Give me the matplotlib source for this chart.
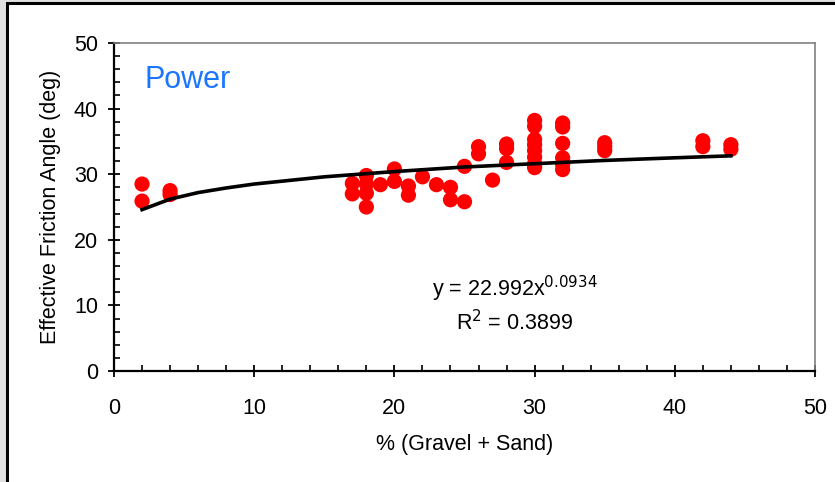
import matplotlib
matplotlib.use("Agg")
import matplotlib.pyplot as plt
from matplotlib.patches import Rectangle
from matplotlib.ticker import MultipleLocator

gravel_sand = [2, 2, 4, 4,
               17, 17, 18, 18, 18, 18, 19, 20, 20, 21, 21, 22, 23, 24, 24,
               25, 25, 26, 26, 27, 28, 28, 28,
               30, 30, 30, 30, 30, 30, 30, 30,
               32, 32, 32, 32, 32, 32,
               35, 35, 35, 42, 42, 44, 44]
friction_angle = [28.5, 25.9, 27.5, 26.9,
                  28.6, 27.0, 29.8, 28.5, 27.1, 25.0, 28.4, 30.8, 28.9, 28.2, 26.8, 29.6, 28.4, 28.0, 26.1,
                  31.2, 25.8, 34.2, 33.1, 29.1, 34.6, 33.9, 31.8,
                  38.2, 37.3, 35.3, 34.5, 33.6, 32.6, 31.6, 31.0,
                  37.8, 37.2, 34.7, 32.5, 31.5, 30.7,
                  34.8, 34.2, 33.6, 35.1, 34.2, 34.5, 33.8]

trend_x = [2, 4, 6, 8, 10, 15, 20, 25, 30, 35, 40, 44]
trend_y = [24.6, 26.2, 27.2, 27.9, 28.5, 29.6, 30.4, 31.1, 31.6, 32.1, 32.5, 32.8]

x_ticks = [0, 10, 20, 30, 40, 50]
y_ticks = [0, 10, 20, 30, 40, 50]

plt.rcParams['font.family'] = ['Liberation Sans', 'DejaVu Sans']
FS = 15.5

fig = plt.figure(figsize=(8.35, 4.82), dpi=100)
fig.patch.set_facecolor('#e0e0e0')
# ..white chart area with black frame, cut by the right and bottom edges..
fig.patches.append(Rectangle((7 / 835, -0.05), 1.2, 1 - 3 / 482 + 0.05,
                             transform=fig.transFigure, facecolor='white',
                             edgecolor='black', linewidth=2.2, zorder=-1))

ax = fig.add_axes([114 / 835, 1 - 371 / 482, (815 - 114) / 835, (371 - 43) / 482])
ax.set_zorder(1)
ax.set_facecolor('white')

ax.scatter(gravel_sand, friction_angle, s=120, color='#ff0000', edgecolors='none', zorder=3)
ax.plot(trend_x, trend_y, color='black', linewidth=2.6, zorder=4)

ax.set_xlim(0, 50)
ax.set_ylim(0, 50)
ax.set_xticks(x_ticks)
ax.set_yticks(y_ticks)
ax.xaxis.set_minor_locator(MultipleLocator(2))
ax.yaxis.set_minor_locator(MultipleLocator(2))
ax.tick_params(which='major', direction='inout', length=9, width=1.3, labelsize=FS)
ax.tick_params(which='minor', direction='in', length=4, width=1.2)
ax.tick_params(axis='x', which='major', pad=15)
ax.tick_params(axis='y', which='major', pad=7)

for side in ['left', 'bottom']:
    ax.spines[side].set_color('black')
    ax.spines[side].set_linewidth(1.6)
for side in ['top', 'right']:
    ax.spines[side].set_color('#808080')
    ax.spines[side].set_linewidth(1.2)

ax.set_xlabel('% (Gravel + Sand)', fontsize=FS, labelpad=11)
ax.set_ylabel('Effective Friction Angle (deg)', fontsize=FS, labelpad=9)

ax.text(2.2, 43.1, 'Power', color='#1a75ff', fontsize=22, va='baseline')
ax.text(28.6, 11.4, r'y = 22.992x$^{0.0934}$', fontsize=FS, ha='center', va='baseline')
ax.text(28.6, 6.2, r'R$^{2}$ = 0.3899', fontsize=FS, ha='center', va='baseline')

plt.savefig('out.png', dpi=100, facecolor=fig.get_facecolor())
